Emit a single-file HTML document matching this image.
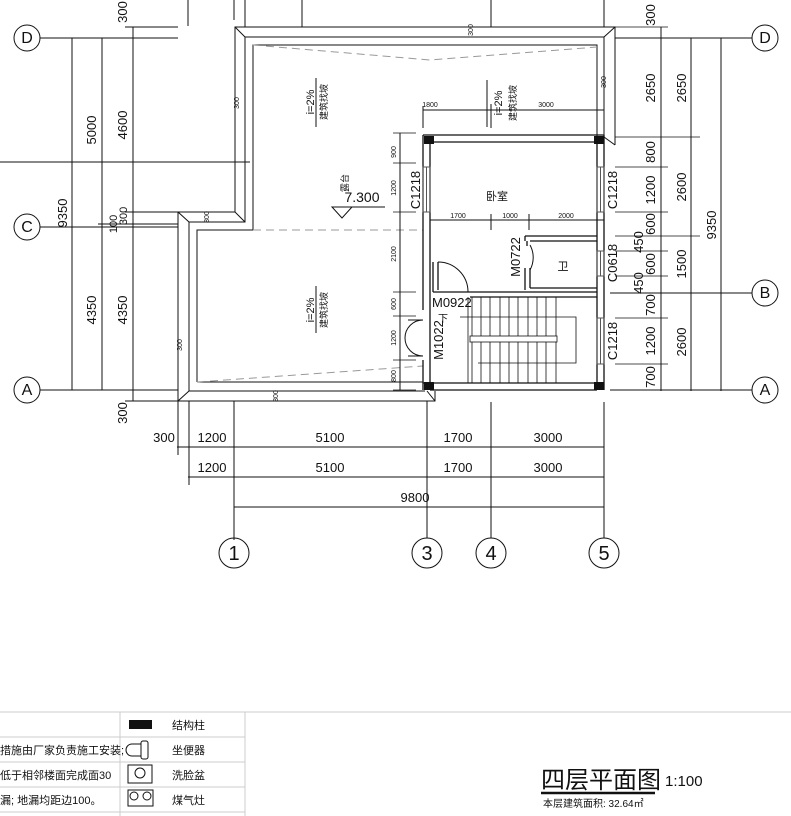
<!DOCTYPE html>
<html><head><meta charset="utf-8"><style>
html,body{margin:0;padding:0;background:#fff;}
svg{display:block;}
text{font-family:"Liberation Sans","Noto Sans CJK SC",sans-serif;fill:#111;}
</style></head><body>
<svg width="791" height="816" viewBox="0 0 791 816" xmlns="http://www.w3.org/2000/svg">
<g stroke="#111" stroke-width="1" fill="none">
<!-- top stubs -->
<line x1="188" y1="0" x2="188" y2="26"/>
<line x1="245" y1="0" x2="245" y2="27"/>
<line x1="302" y1="0" x2="302" y2="27"/>
<line x1="491" y1="0" x2="491" y2="27"/>
<line x1="234" y1="0" x2="234" y2="20"/>
<line x1="604" y1="0" x2="604" y2="27"/>
<!-- axis lines horizontal -->
<line x1="40" y1="38" x2="178" y2="38"/>
<line x1="615" y1="38" x2="752" y2="38"/>
<line x1="0" y1="162" x2="250" y2="162"/>
<line x1="40" y1="227" x2="178" y2="227"/>
<line x1="610" y1="293" x2="752" y2="293"/>
<line x1="40" y1="390" x2="178" y2="390"/>
<line x1="610" y1="390" x2="752" y2="390"/>
<!-- left dims -->
<line x1="72" y1="38" x2="72" y2="390"/>
<line x1="102" y1="38" x2="102" y2="390"/>
<line x1="133" y1="27" x2="133" y2="401"/>
<line x1="125" y1="27" x2="178" y2="27"/>
<line x1="125" y1="212" x2="178" y2="212"/>
<line x1="98" y1="224" x2="178" y2="224"/>
<line x1="125" y1="401" x2="178" y2="401"/>
<!-- parapet outer -->
<polyline points="178,401 178,212 235,212 235,27 615,27 615,145"/>
<polyline points="189,391 189,222 245,222 245,37 604,37 604,137"/>
<line x1="178" y1="212" x2="189" y2="222"/>
<line x1="235" y1="212" x2="245" y2="222"/>
<line x1="235" y1="27" x2="245" y2="37"/>
<line x1="615" y1="27" x2="604" y2="37"/>
<line x1="615" y1="145" x2="604" y2="137"/>
<polyline points="178,401 435,401 435,391"/>
<line x1="189" y1="391" x2="425" y2="391"/>
<line x1="178" y1="401" x2="189" y2="391"/>
<line x1="435" y1="401" x2="427" y2="391"/>
<!-- inner slope lines -->
<polyline points="197,382 197,230 253,230 253,45 597,45 597,137" stroke-width="1"/>
<line x1="197" y1="382" x2="423" y2="382"/>
<g stroke="#999" stroke-dasharray="8,5">
<line x1="253" y1="230" x2="423" y2="230"/>
<polyline points="253,45 430,60 597,47"/>
<line x1="197" y1="382" x2="423" y2="366"/>
</g>
<!-- building walls -->
<g stroke-width="1.3">
<line x1="423" y1="135" x2="604" y2="135"/>
<line x1="430" y1="142" x2="597" y2="142"/>
<line x1="423" y1="383" x2="604" y2="383"/>
<line x1="430" y1="390" x2="597" y2="390"/>
<line x1="423" y1="135" x2="423" y2="310"/>
<line x1="423" y1="360" x2="423" y2="390"/>
<line x1="430" y1="142" x2="430" y2="383"/>
<line x1="597" y1="142" x2="597" y2="383"/>
<line x1="604" y1="135" x2="604" y2="390"/>
<!-- partition room/bath left -->
<line x1="433" y1="262" x2="433" y2="292"/>
<line x1="438" y1="262" x2="438" y2="290"/>
<line x1="433" y1="292" x2="470" y2="292"/>
<line x1="470" y1="297" x2="597" y2="297"/>
<line x1="470" y1="292" x2="597" y2="292"/>
<!-- bath walls -->
<line x1="525" y1="236" x2="597" y2="236"/>
<line x1="530" y1="241" x2="597" y2="241"/>
<line x1="525" y1="236" x2="525" y2="241"/>
<line x1="527" y1="241" x2="527" y2="246"/>
<line x1="525" y1="268" x2="525" y2="290"/>
<line x1="530" y1="268" x2="530" y2="288"/>
<line x1="530" y1="288" x2="597" y2="288"/>
</g>
<!-- windows -->
<g stroke-width="1" stroke="#555">
<rect x="423" y="167" width="7" height="45"/>
<rect x="597" y="167" width="7" height="45"/>
<rect x="597" y="251" width="7" height="25"/>
<rect x="597" y="318" width="7" height="46"/>
<line x1="426.5" y1="167" x2="426.5" y2="212"/>
<line x1="600.5" y1="167" x2="600.5" y2="212"/>
<line x1="600.5" y1="251" x2="600.5" y2="276"/>
<line x1="600.5" y1="318" x2="600.5" y2="364"/>
</g>
<!-- doors -->
<path d="M438,262 A30,30 0 0 1 468,292"/>
<path d="M530,245 A26,26 0 0 1 530,270" />
<path d="M423,320 A18,18 0 0 0 405,338 M423,356 A18,18 0 0 1 405,338"/>
<line x1="408" y1="320" x2="423" y2="320"/>
<line x1="408" y1="356" x2="423" y2="356"/>
<!-- stairs -->
<g stroke-width="0.8">
<line x1="468" y1="297" x2="468" y2="383"/>
<line x1="472" y1="297" x2="472" y2="383"/>
<line x1="481" y1="297" x2="481" y2="383"/>
<line x1="490" y1="297" x2="490" y2="383"/>
<line x1="500" y1="297" x2="500" y2="383"/>
<line x1="509" y1="297" x2="509" y2="383"/>
<line x1="518" y1="297" x2="518" y2="383"/>
<line x1="528" y1="297" x2="528" y2="383"/>
<line x1="537" y1="297" x2="537" y2="383"/>
<line x1="546" y1="297" x2="546" y2="383"/>
<line x1="556" y1="297" x2="556" y2="383"/>
<rect x="470" y="336" width="87" height="6" fill="#fff"/>
<polyline points="460,317 576,317 576,363 478,363"/>
</g>
<!-- inner dim lines -->
<line x1="400" y1="133" x2="400" y2="390"/>
<g stroke-width="0.8">
<line x1="393" y1="133" x2="416" y2="133"/>
<line x1="393" y1="163" x2="416" y2="163"/>
<line x1="393" y1="212" x2="416" y2="212"/>
<line x1="393" y1="292" x2="416" y2="292"/>
<line x1="393" y1="316" x2="416" y2="316"/>
<line x1="393" y1="360" x2="416" y2="360"/>
<line x1="393" y1="390" x2="416" y2="390"/>
</g>
<line x1="423" y1="110" x2="604" y2="110"/>
<line x1="423" y1="106" x2="423" y2="128"/>
<line x1="491" y1="104" x2="491" y2="128"/>
<line x1="430" y1="220" x2="604" y2="220"/>
<line x1="491" y1="214" x2="491" y2="230"/>
<line x1="529" y1="214" x2="529" y2="230"/>
<!-- right dims -->
<line x1="661" y1="27" x2="661" y2="391"/>
<line x1="691" y1="38" x2="691" y2="391"/>
<line x1="721" y1="38" x2="721" y2="391"/>
<g stroke-width="0.8">
<line x1="615" y1="27" x2="668" y2="27"/>
<line x1="615" y1="137" x2="700" y2="137"/>
<line x1="615" y1="167" x2="668" y2="167"/>
<line x1="615" y1="212" x2="668" y2="212"/>
<line x1="615" y1="236" x2="700" y2="236"/>
<line x1="615" y1="251" x2="668" y2="251"/>
<line x1="615" y1="276" x2="668" y2="276"/>
<line x1="615" y1="318" x2="668" y2="318"/>
<line x1="615" y1="364" x2="668" y2="364"/>
</g>
<!-- bottom dims -->
<line x1="178" y1="401" x2="178" y2="455"/>
<line x1="189" y1="401" x2="189" y2="485"/>
<line x1="234" y1="401" x2="234" y2="540"/>
<line x1="427" y1="401" x2="427" y2="538"/>
<line x1="491" y1="402" x2="491" y2="538"/>
<line x1="604" y1="402" x2="604" y2="538"/>
<line x1="177" y1="447" x2="604" y2="447"/>
<line x1="188" y1="477" x2="604" y2="477"/>
<line x1="234" y1="507" x2="604" y2="507"/>
<!-- axis circles -->
<circle cx="27" cy="38" r="13"/><circle cx="27" cy="227" r="13"/><circle cx="27" cy="390" r="13"/>
<circle cx="765" cy="38" r="13"/><circle cx="765" cy="293" r="13"/><circle cx="765" cy="390" r="13"/>
<circle cx="234" cy="553" r="15"/><circle cx="427" cy="553" r="15"/><circle cx="491" cy="553" r="15"/><circle cx="604" cy="553" r="15"/>
<!-- elevation triangle -->
<polyline points="332,207 352,207 342,218 332,207 385,207"/>
<line x1="487" y1="80" x2="487" y2="127"/>
<line x1="316" y1="78" x2="316" y2="127"/>
<line x1="316" y1="286" x2="316" y2="333"/>
</g>
<!-- columns -->
<g fill="#111">
<rect x="424" y="136" width="10" height="8"/><rect x="594" y="136" width="10" height="8"/>
<rect x="424" y="382" width="10" height="8"/><rect x="594" y="382" width="10" height="8"/>
</g>
<!-- text -->
<g font-size="13">
<text x="27" y="43" text-anchor="middle" font-family="Liberation Serif" font-size="16">D</text>
<text x="27" y="232" text-anchor="middle" font-family="Liberation Serif" font-size="16">C</text>
<text x="27" y="395" text-anchor="middle" font-family="Liberation Serif" font-size="16">A</text>
<text x="765" y="43" text-anchor="middle" font-family="Liberation Serif" font-size="16">D</text>
<text x="765" y="298" text-anchor="middle" font-family="Liberation Serif" font-size="16">B</text>
<text x="765" y="395" text-anchor="middle" font-family="Liberation Serif" font-size="16">A</text>
<text x="234" y="560" text-anchor="middle" font-family="Liberation Serif" font-size="20">1</text>
<text x="427" y="560" text-anchor="middle" font-family="Liberation Serif" font-size="20">3</text>
<text x="491" y="560" text-anchor="middle" font-family="Liberation Serif" font-size="20">4</text>
<text x="604" y="560" text-anchor="middle" font-family="Liberation Serif" font-size="20">5</text>
<g text-anchor="middle">
<text transform="translate(96,130) rotate(-90)">5000</text>
<text transform="translate(127,125) rotate(-90)">4600</text>
<text transform="translate(67,213) rotate(-90)">9350</text>
<text transform="translate(96,310) rotate(-90)">4350</text>
<text transform="translate(127,310) rotate(-90)">4350</text>
<text transform="translate(127,12) rotate(-90)">300</text>
<text transform="translate(127,413) rotate(-90)">300</text>
<text transform="translate(127,216) rotate(-90)" font-size="11">300</text>
<text transform="translate(117,224) rotate(-90)" font-size="11">100</text>
<text transform="translate(655,15) rotate(-90)">300</text>
<text transform="translate(655,88) rotate(-90)">2650</text>
<text transform="translate(686,88) rotate(-90)">2650</text>
<text transform="translate(655,152) rotate(-90)">800</text>
<text transform="translate(655,190) rotate(-90)">1200</text>
<text transform="translate(686,187) rotate(-90)">2600</text>
<text transform="translate(655,224) rotate(-90)">600</text>
<text transform="translate(643,242) rotate(-90)">450</text>
<text transform="translate(655,264) rotate(-90)">600</text>
<text transform="translate(643,283) rotate(-90)">450</text>
<text transform="translate(686,264) rotate(-90)">1500</text>
<text transform="translate(655,305) rotate(-90)">700</text>
<text transform="translate(655,341) rotate(-90)">1200</text>
<text transform="translate(686,342) rotate(-90)">2600</text>
<text transform="translate(655,377) rotate(-90)">700</text>
<text transform="translate(716,225) rotate(-90)">9350</text>
<text transform="translate(420,190) rotate(-90)">C1218</text>
<text transform="translate(617,190) rotate(-90)">C1218</text>
<text transform="translate(617,263) rotate(-90)">C0618</text>
<text transform="translate(617,341) rotate(-90)">C1218</text>
<text transform="translate(520,257) rotate(-90)">M0722</text>
<text transform="translate(443,340) rotate(-90)">M1022</text>
<text x="164" y="442">300</text>
<text x="212" y="442">1200</text>
<text x="330" y="442">5100</text>
<text x="458" y="442">1700</text>
<text x="548" y="442">3000</text>
<text x="212" y="472">1200</text>
<text x="330" y="472">5100</text>
<text x="458" y="472">1700</text>
<text x="548" y="472">3000</text>
<text x="415" y="502">9800</text>
<text x="362" y="202" font-size="14">7.300</text>
</g>
<text x="432" y="307">M0922</text>
<text x="438" y="322" font-size="10">下</text>
<g font-size="7" text-anchor="middle">
<text x="430" y="107">1800</text><text x="546" y="107">3000</text>
<text x="458" y="218">1700</text><text x="510" y="218">1000</text><text x="566" y="218">2000</text>
<text transform="translate(396,152) rotate(-90)">900</text>
<text transform="translate(396,188) rotate(-90)">1200</text>
<text transform="translate(396,254) rotate(-90)">2100</text>
<text transform="translate(396,304) rotate(-90)">600</text>
<text transform="translate(396,338) rotate(-90)">1200</text>
<text transform="translate(396,376) rotate(-90)">800</text>
<text transform="translate(239,103) rotate(-90)">300</text>
<text transform="translate(209,217) rotate(-90)">300</text>
<text transform="translate(182,345) rotate(-90)">300</text>
<text transform="translate(278,396) rotate(-90)">300</text>
<text transform="translate(473,30) rotate(-90)">300</text>
<text transform="translate(606,82) rotate(-90)">300</text>
</g>
<g font-size="11" text-anchor="middle">
<text transform="translate(314,102) rotate(-90)">i=2%</text>
<text transform="translate(327,102) rotate(-90)" font-size="9">建筑找坡</text>
<text transform="translate(502,103) rotate(-90)">i=2%</text>
<text transform="translate(516,103) rotate(-90)" font-size="9">建筑找坡</text>
<text transform="translate(314,310) rotate(-90)">i=2%</text>
<text transform="translate(327,310) rotate(-90)" font-size="9">建筑找坡</text>
<text transform="translate(348,183) rotate(-90)" font-size="9">露台</text>
</g>
<text x="497" y="200" font-size="11" text-anchor="middle">卧室</text>
<text x="563" y="270" font-size="11" text-anchor="middle">卫</text>
</g>
<!-- legend -->
<g stroke="#ccc" stroke-width="1">
<line x1="0" y1="712" x2="791" y2="712"/>
<line x1="0" y1="737" x2="245" y2="737"/>
<line x1="0" y1="762" x2="245" y2="762"/>
<line x1="0" y1="787" x2="245" y2="787"/>
<line x1="0" y1="812" x2="245" y2="812"/>
<line x1="120" y1="712" x2="120" y2="816"/>
<line x1="245" y1="712" x2="245" y2="816"/>
</g>
<rect x="129" y="720" width="23" height="9" fill="#111"/>
<g stroke="#111" fill="none">
<path d="M141,744 L132,744 A6,6 0 0 0 132,756 L141,756 Z"/>
<rect x="141" y="741" width="7" height="18" rx="2"/>
<rect x="128" y="765" width="24" height="18"/>
<circle cx="140" cy="773" r="5"/>
<rect x="128" y="790" width="25" height="16"/>
<circle cx="134" cy="796" r="4"/><circle cx="147" cy="796" r="4"/>
</g>
<g font-size="11">
<text x="172" y="729">结构柱</text>
<text x="172" y="754">坐便器</text>
<text x="172" y="779">洗脸盆</text>
<text x="172" y="804">煤气灶</text>
<text x="0" y="754">措施由厂家负责施工安装;</text>
<text x="0" y="779">低于相邻楼面完成面30</text>
<text x="0" y="804">漏; 地漏均距边100。</text>
</g>
<text x="541" y="788" font-size="24" font-family="Liberation Serif, Noto Serif CJK SC, serif">四层平面图</text>
<text x="665" y="786" font-size="15" font-family="Liberation Serif, serif">1:100</text>
<line x1="541" y1="793" x2="655" y2="793" stroke="#111" stroke-width="2.5"/>
<text x="543" y="807" font-size="10">本层建筑面积: 32.64㎡</text>
</svg>
</body></html>
